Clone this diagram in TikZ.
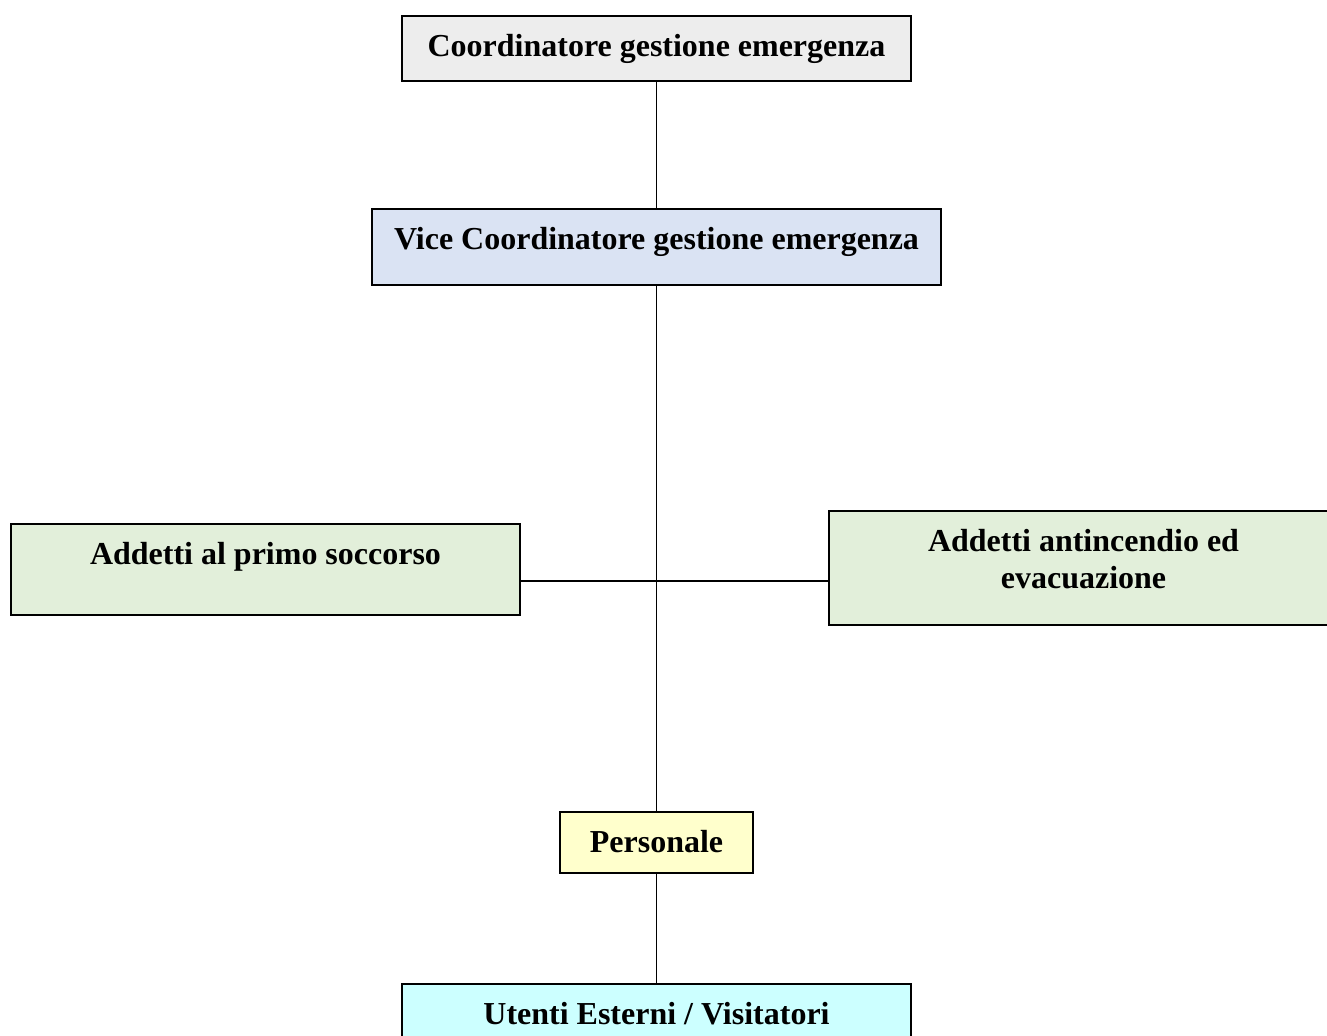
\documentclass[tikz,border=0pt]{standalone}
\usepackage{fontspec}
\setmainfont{Liberation Serif}
\usetikzlibrary{calc}

\definecolor{grigio}{HTML}{EDEDED}
\definecolor{azzurro}{HTML}{DAE3F3}
\definecolor{verde}{HTML}{E2EFDA}
\definecolor{giallo}{HTML}{FFFFCC}
\definecolor{ciano}{HTML}{CCFFFF}

\begin{document}
\begin{tikzpicture}[
	ruolo/.style={draw, line width=1pt, anchor=north, inner ysep=0pt, align=center,
		font=\fontsize{18.2}{21}\selectfont\bfseries, text height=0.82cm},
	linea/.style={line width=0.7pt}]
	\useasboundingbox (0,0) rectangle (26.54,20.7);
	\clip (0,0) rectangle (26.54,20.7);

	%boxes
	\node[ruolo, fill=grigio, minimum width=10.18cm, text depth=0.48cm] (coord) at (13.13,20.4) {Coordinatore gestione emergenza};
	\node[ruolo, fill=azzurro, minimum width=11.38cm, text depth=0.7cm] (vice) at (13.13,16.54) {Vice Coordinatore gestione emergenza};
	\node[ruolo, fill=verde, minimum width=10.18cm, text depth=1.0cm] (soccorso) at (5.31,10.24) {Addetti al primo soccorso};
	\node[ruolo, fill=verde, minimum width=10.18cm, text height=1.56cm, text depth=0.72cm] (antincendio) at (21.67,10.5) {Addetti antincendio ed\\evacuazione};
	\node[ruolo, fill=giallo, minimum width=3.86cm, text depth=0.4cm] (personale) at (13.13,4.48) {Personale};
	\node[ruolo, fill=ciano, minimum width=10.18cm, text depth=0.6cm] (utenti) at (13.13,1.04) {Utenti Esterni / Visitatori};

	%lines
	\coordinate (incrocio) at (13.13,9.08);
	\draw[linea] (coord.south) -- (vice.north);
	\draw[linea] (vice.south) -- (personale.north);
	\draw[linea] (soccorso.east |- incrocio) -- (antincendio.west |- incrocio);
	\draw[linea] (personale.south) -- (utenti.north);
\end{tikzpicture}
\end{document}
